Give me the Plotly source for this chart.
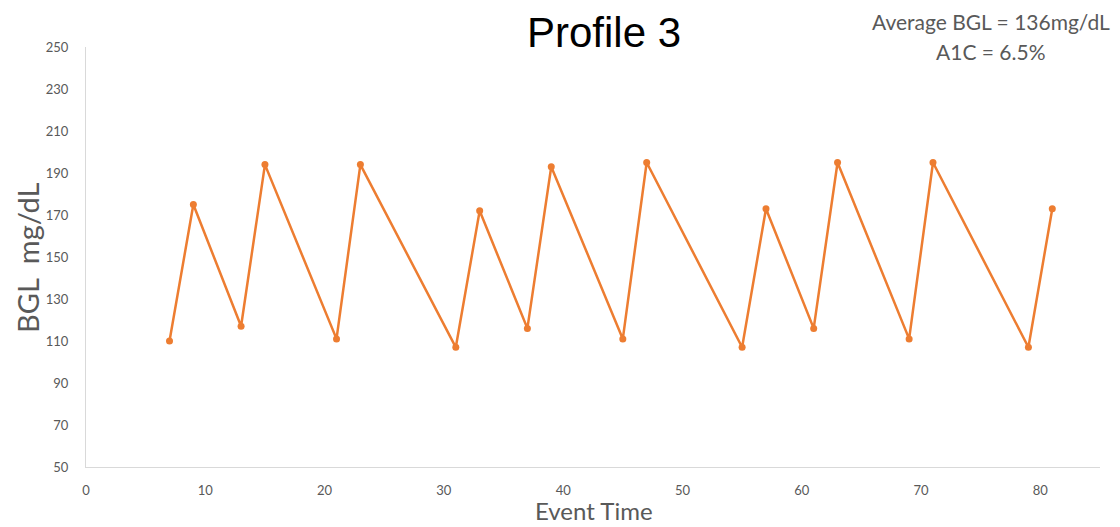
import plotly.graph_objects as go

event_time = [7, 9, 13, 15, 21, 23, 31, 33, 37, 39, 45, 47, 55, 57, 61, 63, 69, 71, 79, 81]
bgl = [110, 175, 117, 194, 111, 194, 107, 172, 116, 193, 111, 195, 107, 173, 116, 195, 111, 195, 107, 173]
y_ticks = [50, 70, 90, 110, 130, 150, 170, 190, 210, 230, 250]
x_ticks = [0, 10, 20, 30, 40, 50, 60, 70, 80]

orange = "#ED7D31"
gray = "#595959"
font_main = "Lato, 'Open Sans', sans-serif"

L, R, T, B = 86, 20, 47, 60
W, H = 1120, 527
plot_w = W - L - R
plot_h = H - T - B


def px(x):
    return (x - L) / plot_w


def py(y):
    return (H - B - y) / plot_h


def label(text, x, y, size, color=gray, family=font_main, angle=0):
    return dict(text=text, x=px(x), y=py(y), xref="paper", yref="paper", showarrow=False,
                xanchor="center", yanchor="middle", textangle=angle,
                font=dict(family=family, size=size, color=color))


fig = go.Figure()
fig.add_trace(go.Scatter(
    x=event_time, y=bgl, mode="lines+markers",
    line=dict(color=orange, width=2.5),
    marker=dict(color=orange, size=7),
    showlegend=False,
))

fig.update_layout(
    width=W, height=H,
    margin=dict(l=L, r=R, t=T, b=B, autoexpand=False),
    paper_bgcolor="white", plot_bgcolor="white",
    xaxis=dict(range=[0, 85], tickvals=x_ticks, showgrid=False, zeroline=False,
               showline=True, linecolor="#d9d9d9", linewidth=1, automargin=False,
               ticks="outside", ticklen=11, tickcolor="rgba(0,0,0,0)",
               tickfont=dict(family=font_main, size=13, color=gray)),
    yaxis=dict(range=[50, 250], tickvals=y_ticks, showgrid=False, zeroline=False,
               showline=True, linecolor="#d9d9d9", linewidth=1, automargin=False,
               ticks="outside", ticklen=14, tickcolor="rgba(0,0,0,0)",
               tickfont=dict(family=font_main, size=13, color=gray)),
    annotations=[
        label("Profile 3", 604, 33, 42, color="black", family="Liberation Sans, Arial, sans-serif"),
        label("Average BGL = 136mg/dL", 991, 22, 21),
        label("A1C = 6.5%", 991, 52, 21),
        label("Event Time", 594, 510, 24),
        label("BGL  mg/dL", 27, 258, 29, angle=-90),
    ],
)

fig.write_html("out.html", config={"displayModeBar": False},
               post_script="document.body.style.margin='0';")
